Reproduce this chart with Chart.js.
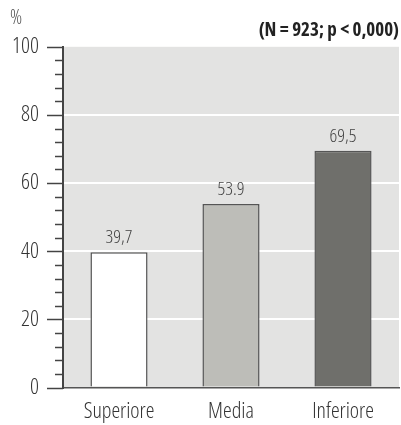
<!DOCTYPE html>
<html>
<head>
<meta charset="utf-8">
<script src="https://cdn.jsdelivr.net/npm/chart.js@4/dist/chart.umd.min.js"></script>
<style>
  html, body { margin: 0; padding: 0; background: #fff; }
</style>
</head>
<body>
<canvas id="chart_bar" width="401" height="425"></canvas>
<script>
var categories = ['Superiore', 'Media', 'Inferiore'];
var values = [39.7, 53.9, 69.5];
var valueLabels = ['39,7', '53.9', '69,5'];
var yTicks = [0, 20, 40, 60, 80, 100];
var unitLabel = '%';
var noteLabel = '(N = 923; p < 0,000)';

// condensed face of Open Sans (variable width axis); the stretch keyword
// rides along in the weight field so it ends up in the canvas font string
var fontFam = "'Open Sans', sans-serif";
function narrow(size, weight){
    return { family: fontFam, weight: 'condensed ' + (weight || '300'), size: size };
}

// grey plot background
var bgPlugin = {
    id: 'bgPlugin',
    beforeDraw: function(chart){
        var a = chart.chartArea;
        var c = chart.ctx;
        c.save();
        c.fillStyle = '#e3e3e2';
        c.fillRect(a.left, a.top, a.right - a.left, a.bottom - a.top);
        c.restore();
    }
};

// long ticks at labelled values, short ones between
var tickPlugin = {
    id: 'tickPlugin',
    afterDraw: function(chart){
        var y = chart.scales.y;
        var c = chart.ctx;
        var x0 = chart.chartArea.left;
        c.save();
        c.strokeStyle = '#444';
        c.lineWidth = 1.5;
        y.ticks.forEach(function(t){
            var major = yTicks.indexOf(t.value) >= 0;
            var py = Math.round(y.getPixelForValue(t.value)) + 0.5;
            c.beginPath();
            c.moveTo(x0 - (major ? 16 : 8), py);
            c.lineTo(x0, py);
            c.stroke();
        });
        c.restore();
    }
};

// numbers above the bars
var valuePlugin = {
    id: 'valuePlugin',
    afterDatasetsDraw: function(chart){
        var c = chart.ctx;
        var meta = chart.getDatasetMeta(0);
        c.save();
        c.font = "condensed 300 19px " + fontFam;
        c.fillStyle = '#444';
        c.textAlign = 'center';
        c.textBaseline = 'bottom';
        meta.data.forEach(function(bar, i){
            c.fillText(valueLabels[i], bar.x, bar.y - 5);
        });
        c.restore();
    }
};

var barChart = new Chart(document.getElementById('chart_bar'), {
    type: 'bar',
    data: {
        labels: categories,
        datasets: [
            {
                data: values,
                backgroundColor: ['#ffffff', '#bdbdb8', '#6f6f6b'],
                borderColor: '#555',
                borderWidth: 1.5,
                borderSkipped: 'bottom',
                barPercentage: 0.51,
                categoryPercentage: 1
            }
        ]
    },
    options: {
        responsive: false,
        animation: false,
        layout: { padding: { left: 10, right: 2, top: 0, bottom: -11 } },
        plugins: {
            legend: { display: false },
            tooltip: { enabled: false },
            title: {
                display: true,
                text: unitLabel,
                align: 'start',
                color: '#555',
                font: narrow(20, '300'),
                padding: { top: 6, bottom: -11 }
            },
            subtitle: {
                display: true,
                text: noteLabel,
                align: 'end',
                color: '#222',
                font: narrow(19, 'bold'),
                padding: { top: 0, bottom: 5 }
            }
        },
        scales: {
            x: {
                grid: { display: false, drawTicks: false },
                border: { color: '#555', width: 1.5 },
                ticks: {
                    color: '#333',
                    padding: 11,
                    font: narrow(22)
                }
            },
            y: {
                min: 0,
                max: 100,
                afterFit: function(scale){ scale.width = 53; },
                grid: {
                    drawTicks: false,
                    lineWidth: 2,
                    color: function(ctx){
                        var v = ctx.tick ? ctx.tick.value : -1;
                        return (v > 0 && v < 100 && v % 20 === 0) ? '#ffffff' : 'rgba(0,0,0,0)';
                    }
                },
                border: { color: '#444', width: 2 },
                ticks: {
                    stepSize: 4,
                    autoSkip: false,
                    padding: 24,
                    color: '#333',
                    font: narrow(22),
                    callback: function(v){ return yTicks.indexOf(v) >= 0 ? v : ''; }
                }
            }
        }
    },
    plugins: [bgPlugin, tickPlugin, valuePlugin]
});
</script>
</body>
</html>
